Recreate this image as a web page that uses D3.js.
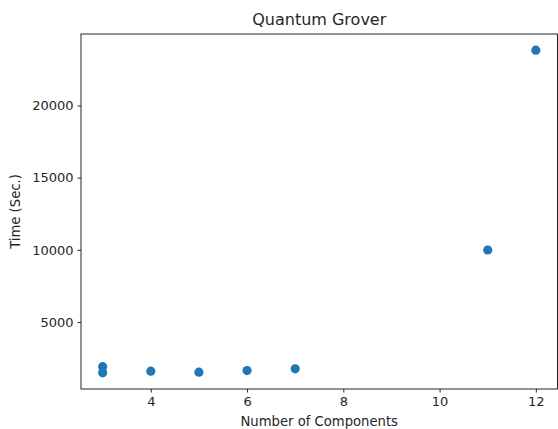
<!DOCTYPE html>
<html>
<head>
<meta charset="utf-8">
<script src="https://cdn.jsdelivr.net/npm/d3@7"></script>
<style>
  body { margin: 0; background: #fff; }
  text { font-family: "DejaVu Sans", sans-serif; fill: #262626; }
</style>
</head>
<body>
<div id="chart"></div>
<script>
// data
var components = [3, 3, 4, 5, 6, 7, 11, 12];
var times = [1910, 1480, 1600, 1530, 1640, 1760, 9990, 23830];
var xTicks = [4, 6, 8, 10, 12];
var yTicks = [5000, 10000, 15000, 20000];

var width = 558, height = 429;
var margin = { left: 81, top: 34, right: 0.5, bottom: 40 };

var svg = d3.select("#chart").append("svg")
    .attr("width", width)
    .attr("height", height);

// matplotlib style 5% padding around the data
var xExt = d3.extent(components), yExt = d3.extent(times);
var xPad = (xExt[1] - xExt[0]) * 0.05, yPad = (yExt[1] - yExt[0]) * 0.05;

var x = d3.scaleLinear()
    .domain([xExt[0] - xPad, xExt[1] + xPad])
    .range([margin.left, width - margin.right]);
var y = d3.scaleLinear()
    .domain([yExt[0] - yPad, yExt[1] + yPad])
    .range([height - margin.bottom, margin.top]);

// axes
svg.append("g")
    .attr("transform", "translate(0," + (height - margin.bottom) + ")")
    .call(d3.axisBottom(x).tickValues(xTicks).tickFormat(d3.format("d"))
        .tickSize(3.5).tickPadding(4).tickSizeOuter(0));
svg.append("g")
    .attr("transform", "translate(" + margin.left + ",0)")
    .call(d3.axisLeft(y).tickValues(yTicks).tickFormat(d3.format("d"))
        .tickSize(3.5).tickPadding(4).tickSizeOuter(0));

svg.selectAll(".tick text").style("font-size", "13px").attr("fill", "#262626");
svg.selectAll(".tick line").attr("stroke", "#262626");
svg.selectAll(".domain").remove();

// frame
svg.append("rect")
    .attr("x", margin.left)
    .attr("y", margin.top)
    .attr("width", width - margin.right - margin.left)
    .attr("height", height - margin.bottom - margin.top)
    .attr("fill", "none")
    .attr("stroke", "#262626")
    .attr("stroke-width", 1);

// points
svg.selectAll("circle")
    .data(components)
    .enter()
    .append("circle")
    .attr("cx", function(d) { return x(d); })
    .attr("cy", function(d, i) { return y(times[i]); })
    .attr("r", 4.6)
    .attr("fill", "#1f77b4");

// title and labels
svg.append("text")
    .attr("x", (margin.left + width - margin.right) / 2)
    .attr("y", 25)
    .attr("text-anchor", "middle")
    .style("font-size", "16px")
    .text("Quantum Grover");

svg.append("text")
    .attr("x", (margin.left + width - margin.right) / 2)
    .attr("y", 426)
    .attr("text-anchor", "middle")
    .style("font-size", "13.2px")
    .text("Number of Components");

svg.append("text")
    .attr("transform", "translate(20," + (margin.top + height - margin.bottom) / 2 + ") rotate(-90)")
    .attr("text-anchor", "middle")
    .style("font-size", "13.2px")
    .text("Time (Sec.)");
</script>
</body>
</html>
